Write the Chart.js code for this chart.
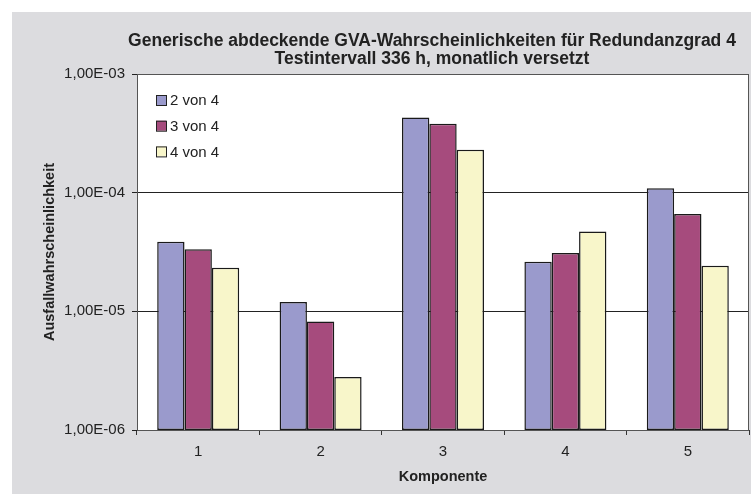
<!DOCTYPE html>
<html>
<head>
<meta charset="utf-8">
<script src="https://cdn.jsdelivr.net/npm/chart.js@4/dist/chart.umd.min.js"></script>
<style>
  html, body { margin: 0; padding: 0; background: #fff; }
  #wrap { width: 751px; height: 494px; }
</style>
</head>
<body>
<div id="wrap"><canvas id="myChart" width="751" height="494"></canvas></div>
<script>
const komponenten = ['1', '2', '3', '4', '5'];
const zweiVon4 = [3.85e-5, 1.2e-5, 4.3e-4, 2.62e-5, 1.09e-4];
const dreiVon4 = [3.33e-5, 8.2e-6, 3.8e-4, 3.1e-5, 6.6e-5];
const vierVon4 = [2.33e-5, 2.8e-6, 2.3e-4, 4.7e-5, 2.42e-5];
const yTicks = [1e-6, 1e-5, 1e-4, 1e-3];
const titleLines = ['Generische abdeckende GVA-Wahrscheinlichkeiten für Redundanzgrad 4', 'Testintervall 336 h, monatlich versetzt'];

const FONT = "'Liberation Sans', Arial, sans-serif";

// background, plot frame, title and legend like the old office chart
const decor = {
    id: 'decor',
    beforeDraw(chart) {
        const ctx = chart.ctx, a = chart.chartArea;
        ctx.save();
        ctx.fillStyle = '#ffffff';
        ctx.fillRect(0, 0, chart.width, chart.height);
        ctx.fillStyle = '#dcdcdf';
        ctx.fillRect(12, 12, chart.width - 12, chart.height - 12);
        ctx.fillStyle = '#ffffff';
        ctx.fillRect(a.left, a.top, a.right - a.left, a.bottom - a.top);
        ctx.restore();
    },
    afterDraw(chart) {
        const ctx = chart.ctx, a = chart.chartArea;
        ctx.save();
        ctx.strokeStyle = '#555';
        ctx.lineWidth = 1;
        ctx.strokeRect(a.left + 0.5, a.top + 0.5, a.right - a.left - 1, a.bottom - a.top);
        // title
        ctx.fillStyle = '#222';
        ctx.font = 'bold 17.5px ' + FONT;
        ctx.textAlign = 'center';
        ctx.textBaseline = 'middle';
        ctx.fillText(titleLines[0], 432, 41);
        ctx.fillText(titleLines[1], 432, 59);
        // legend
        ctx.font = '15px ' + FONT;
        ctx.textAlign = 'left';
        chart.data.datasets.forEach((ds, i) => {
            const y = a.top + 26 + i * 25.7;
            ctx.fillStyle = ds.backgroundColor;
            ctx.fillRect(156, y - 5, 10, 10);
            ctx.strokeStyle = '#222';
            ctx.strokeRect(156.5, y - 4.5, 10, 10);
            ctx.fillStyle = '#222';
            ctx.fillText(ds.label, 170, y + 1);
        });
        ctx.restore();
    }
};

new Chart('myChart', {
    type: 'bar',
    data: {
        labels: komponenten,
        datasets: [{
            label: '2 von 4',
            data: zweiVon4,
            backgroundColor: '#9a9acc'
        }, {
            label: '3 von 4',
            data: dreiVon4,
            backgroundColor: '#a64b7d'
        }, {
            label: '4 von 4',
            data: vierVon4,
            backgroundColor: '#f8f6ca'
        }]
    },
    options: {
        responsive: false,
        animation: false,
        events: [],
        layout: { padding: { top: 74, left: 12, right: 2, bottom: 0 } },
        datasets: {
            bar: {
                categoryPercentage: 0.67,
                barPercentage: 1.0,
                borderColor: '#1a1a1a',
                borderWidth: 1.5,
                borderSkipped: false
            }
        },
        plugins: {
            legend: { display: false },
            title: { display: false },
            tooltip: { enabled: false }
        },
        scales: {
            x: {
                offset: true,
                grid: {
                    offset: true,
                    drawOnChartArea: false,
                    tickLength: 5,
                    color: '#333'
                },
                border: { color: '#333' },
                ticks: {
                    padding: 8,
                    color: '#222',
                    font: { family: FONT, size: 15 }
                },
                title: {
                    display: true,
                    text: 'Komponente',
                    color: '#222',
                    font: { family: FONT, size: 14.5, weight: 'bold' },
                    padding: { top: 0, bottom: 8 }
                },
                afterFit(scale) { scale.height = 64; }
            },
            y: {
                type: 'logarithmic',
                min: 1e-6,
                max: 1e-3,
                afterBuildTicks(scale) {
                    scale.ticks = yTicks.map(v => ({ value: v }));
                },
                grid: {
                    color: '#222',
                    tickLength: 5
                },
                border: { color: '#333' },
                ticks: {
                    padding: 7,
                    color: '#222',
                    font: { family: FONT, size: 15 },
                    callback(v) {
                        const s = Number(v).toExponential(2).replace('.', ',');
                        return s.replace(/e([+-])(\d)$/, 'E$10$2').replace('e', 'E');
                    }
                },
                title: {
                    display: true,
                    text: 'Ausfallwahrscheinlichkeit',
                    color: '#222',
                    font: { family: FONT, size: 14.5, weight: 'bold' },
                    padding: { top: 29, bottom: 0 }
                },
                afterFit(scale) { scale.width = 125; }
            }
        }
    },
    plugins: [decor]
});
</script>
</body>
</html>
